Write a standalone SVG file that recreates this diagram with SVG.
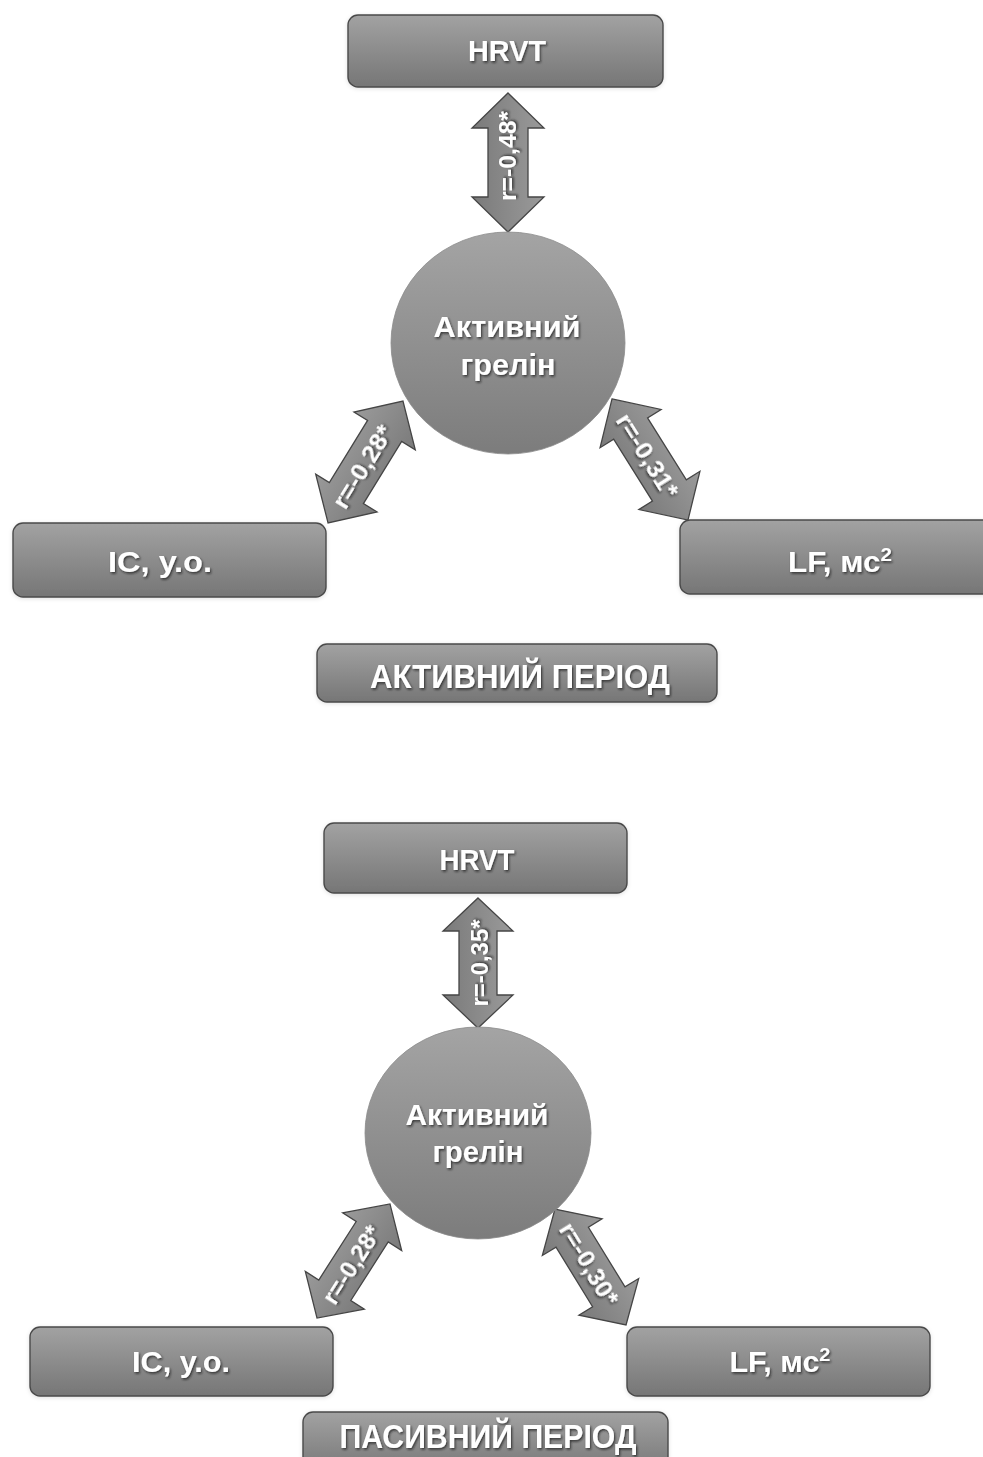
<svg xmlns="http://www.w3.org/2000/svg" width="983" height="1457" viewBox="0 0 983 1457">
<defs>
<linearGradient id="gBox" x1="0" y1="0" x2="0" y2="1">
<stop offset="0" stop-color="#a2a2a2"/>
<stop offset="1" stop-color="#767676"/>
</linearGradient>
<linearGradient id="gCirc" x1="0" y1="0" x2="0" y2="1">
<stop offset="0" stop-color="#a4a4a4"/>
<stop offset="1" stop-color="#7c7c7c"/>
</linearGradient>
<linearGradient id="gArr" x1="0" y1="0" x2="0" y2="1">
<stop offset="0" stop-color="#9a9a9a"/>
<stop offset="1" stop-color="#7a7a7a"/>
</linearGradient>
<filter id="ts" x="-20%" y="-40%" width="140%" height="180%">
<feDropShadow dx="1.2" dy="1.6" stdDeviation="0.9" flood-color="#1e1e1e" flood-opacity="0.75"/>
</filter>
<filter id="glow" x="-10%" y="-20%" width="120%" height="140%">
<feDropShadow dx="0" dy="1" stdDeviation="2" flood-color="#000" flood-opacity="0.12"/>
</filter>
</defs>
<style>
.box{fill:url(#gBox);stroke:#4a4a4a;stroke-width:1.4;filter:url(#glow)}
.circ{fill:url(#gCirc);stroke:#8a8a8a;stroke-width:0.8}
.arr{fill:url(#gArr);stroke:#454545;stroke-width:1.3;stroke-linejoin:miter}
.t{font-family:"Liberation Sans",Arial,sans-serif;font-weight:700;fill:#ffffff;text-anchor:middle;filter:url(#ts)}
.tb{font-size:29px}
.tc{font-size:29px}
.tt{font-size:34px}
.ta{font-size:24px;dominant-baseline:central}
.sup{font-size:19px}
</style>

<g id="connectors">
<g id="arrow-top-hrvt">
<path class="arr" transform="translate(508,162.5) rotate(90)" d="M-69.5,0 L-34.5,-36 L-34.5,-20 L34.5,-20 L34.5,-36 L69.5,0 L34.5,36 L34.5,20 L-34.5,20 L-34.5,36 Z"/>
<text class="t ta" transform="translate(507,156) rotate(-90)" textLength="90" lengthAdjust="spacingAndGlyphs">r=-0,48*</text>
</g>
<g id="arrow-top-ic">
<path class="arr" transform="translate(365.5,462) rotate(-58.4)" d="M-71.5,0 L-36.5,-36 L-36.5,-20 L36.5,-20 L36.5,-36 L71.5,0 L36.5,36 L36.5,20 L-36.5,20 L-36.5,36 Z"/>
<text class="t ta" transform="translate(363,467) rotate(-58.4)" textLength="93" lengthAdjust="spacingAndGlyphs">r=-0,28*</text>
</g>
<g id="arrow-top-lf">
<path class="arr" transform="translate(650,459.5) rotate(57.9)" d="M-71.5,0 L-36.5,-36 L-36.5,-20 L36.5,-20 L36.5,-36 L71.5,0 L36.5,36 L36.5,20 L-36.5,20 L-36.5,36 Z"/>
<text class="t ta" transform="translate(647,456) rotate(57.9)" textLength="95" lengthAdjust="spacingAndGlyphs">r=-0,31*</text>
</g>
<g id="arrow-bot-hrvt">
<path class="arr" transform="translate(478,963) rotate(90)" d="M-65,0 L-32,-35 L-32,-19 L32,-19 L32,-35 L65,0 L32,35 L32,19 L-32,19 L-32,35 Z"/>
<text class="t ta" transform="translate(479,963) rotate(-90)" textLength="87" lengthAdjust="spacingAndGlyphs">r=-0,35*</text>
</g>
<g id="arrow-bot-ic">
<path class="arr" transform="translate(353.5,1261) rotate(-57.4)" d="M-67.7,0 L-34.7,-35 L-34.7,-19 L34.7,-19 L34.7,-35 L67.7,0 L34.7,35 L34.7,19 L-34.7,19 L-34.7,35 Z"/>
<text class="t ta" transform="translate(352,1265) rotate(-57.4)" textLength="88" lengthAdjust="spacingAndGlyphs">r=-0,28*</text>
</g>
<g id="arrow-bot-lf">
<path class="arr" transform="translate(590.5,1267) rotate(58.5)" d="M-68,0 L-35,-35 L-35,-19 L35,-19 L35,-35 L68,0 L35,35 L35,19 L-35,19 L-35,35 Z"/>
<text class="t ta" transform="translate(589,1264) rotate(58.5)" textLength="92" lengthAdjust="spacingAndGlyphs">r=-0,30*</text>
</g>
</g>

<g id="top-hrvt">
<rect class="box" x="348" y="15" width="315" height="72" rx="10"/>
<text class="t tb" x="507" y="61" textLength="78" lengthAdjust="spacingAndGlyphs">HRVT</text>
</g>
<g id="top-ghrelin">
<ellipse class="circ" cx="508" cy="343" rx="117" ry="111"/>
<text class="t tc" x="507" y="337" textLength="147" lengthAdjust="spacingAndGlyphs">Активний</text>
<text class="t tc" x="508" y="375" textLength="95" lengthAdjust="spacingAndGlyphs">грелін</text>
</g>
<g id="top-ic">
<rect class="box" x="13" y="523" width="313" height="74" rx="10"/>
<text class="t tc" x="160" y="572" textLength="104" lengthAdjust="spacingAndGlyphs">IC, у.о.</text>
</g>
<g id="top-lf">
<rect class="box" x="680" y="520" width="315" height="74" rx="10"/>
<text class="t tc" x="840" y="572" textLength="104" lengthAdjust="spacingAndGlyphs">LF, мс<tspan class="sup" dy="-11">2</tspan></text>
</g>
<g id="top-title">
<rect class="box" x="317" y="644" width="400" height="58" rx="10"/>
<text class="t tt" x="520" y="688" textLength="300" lengthAdjust="spacingAndGlyphs">АКТИВНИЙ ПЕРІОД</text>
</g>

<g id="bot-hrvt">
<rect class="box" x="324" y="823" width="303" height="70" rx="10"/>
<text class="t tb" x="477" y="870" textLength="75" lengthAdjust="spacingAndGlyphs">HRVT</text>
</g>
<g id="bot-ghrelin">
<ellipse class="circ" cx="478" cy="1133" rx="113" ry="106"/>
<text class="t tc" x="477" y="1125" textLength="143" lengthAdjust="spacingAndGlyphs">Активний</text>
<text class="t tc" x="478" y="1162" textLength="91" lengthAdjust="spacingAndGlyphs">грелін</text>
</g>
<g id="bot-ic">
<rect class="box" x="30" y="1327" width="303" height="69" rx="10"/>
<text class="t tc" x="181" y="1372" textLength="98" lengthAdjust="spacingAndGlyphs">IC, у.о.</text>
</g>
<g id="bot-lf">
<rect class="box" x="627" y="1327" width="303" height="69" rx="10"/>
<text class="t tc" x="780" y="1372" textLength="101" lengthAdjust="spacingAndGlyphs">LF, мс<tspan class="sup" dy="-11">2</tspan></text>
</g>
<g id="bot-title">
<rect class="box" x="303" y="1412" width="365" height="62" rx="10"/>
<text class="t tt" x="488" y="1448" textLength="297" lengthAdjust="spacingAndGlyphs">ПАСИВНИЙ ПЕРІОД</text>
</g>
</svg>
